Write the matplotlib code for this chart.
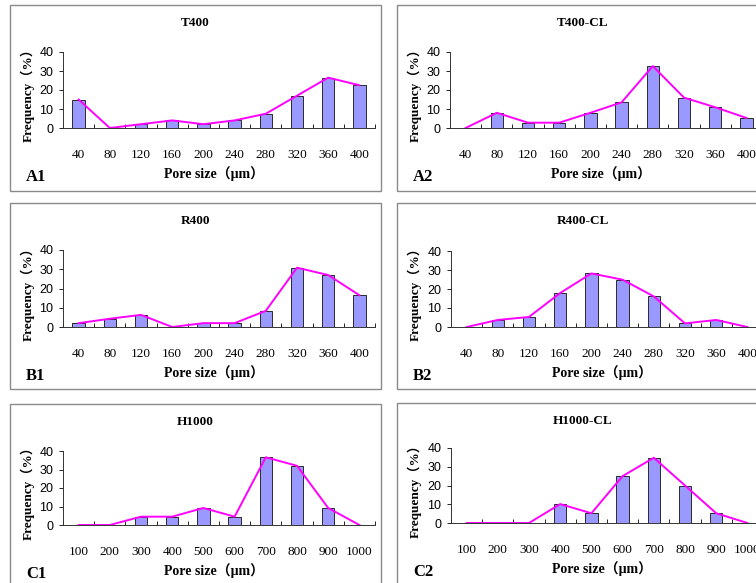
import numpy as np
import matplotlib
matplotlib.use('Agg')
import matplotlib.pyplot as plt
from matplotlib.patches import Rectangle

# pore size classes
sizes_400 = ['40', '80', '120', '160', '200', '240', '280', '320', '360', '400']
sizes_1000 = ['100', '200', '300', '400', '500', '600', '700', '800', '900', '1000']

# frequency (%) per sample
t400 = [15, 0, 2, 4, 2, 4, 7.5, 17, 26.5, 22.5]
t400_cl = [0, 8, 2.8, 2.8, 8, 13.5, 32.6, 16, 10.9, 5.3]
r400 = [2, 4.3, 6.3, 0, 2, 2, 8.4, 30.8, 27, 16.5]
r400_cl = [0, 3.7, 5.3, 17.9, 28.2, 24.9, 16.1, 1.9, 3.7, 0]
h1000 = [0, 0, 4.5, 4.5, 9.2, 4.5, 36.6, 32, 9.2, 0]
h1000_cl = [0, 0, 0, 10.1, 5.2, 25, 34.8, 20, 5.2, 0]

W, H = 756, 583
fig = plt.figure(figsize=(W / 100, H / 100), dpi=100)
fig.patch.set_facecolor('white')

serif = ['Liberation Serif', 'Noto Sans CJK SC']
sans = ['Liberation Sans', 'DejaVu Sans']


def fx(x):
    return x / W


def fy(y):
    return 1 - y / H


# (title, panel label, categories, values, box left, box top, axes left, axes top, axes bottom)
panels = [
    ('T400', 'A1', sizes_400, t400, 10, 5, 63, 52, 128),
    ('T400-CL', 'A2', sizes_400, t400_cl, 397, 5, 450, 52, 128),
    ('R400', 'B1', sizes_400, r400, 10, 203, 63, 250, 327),
    ('R400-CL', 'B2', sizes_400, r400_cl, 397, 203, 451, 251, 327),
    ('H1000', 'C1', sizes_1000, h1000, 10, 404, 63, 451, 525),
    ('H1000-CL', 'C2', sizes_1000, h1000_cl, 397, 403, 451, 448, 523),
]

box_w, box_h = 371, 186
step = 31.2

for title, tag, cats, vals, bx, by, ax_l, ax_t, ax_b in panels:
    # frame around each panel
    fig.patches.append(Rectangle((fx(bx), fy(by + box_h)), box_w / W, box_h / H,
                                 transform=fig.transFigure, fill=False,
                                 edgecolor='#8a8a8a', lw=1.0))

    ax_r = ax_l + step * len(cats)
    ax = fig.add_axes([fx(ax_l), fy(ax_b), (ax_r - ax_l) / W, (ax_b - ax_t) / H])
    pos = np.arange(len(cats))
    ax.bar(pos, vals, width=0.4, color='#9999FF', edgecolor='#2a2a2a', lw=0.7, zorder=2)
    ax.plot(pos, vals, color='#FF00FF', lw=1.4, zorder=3)

    ax.set_xlim(-0.5, len(cats) - 0.5)
    ax.set_ylim(0, 40)
    ax.set_yticks([0, 10, 20, 30, 40])
    ax.set_xticks(pos)
    ax.set_xticklabels(cats, fontfamily=serif, fontsize=9.5)
    ax.set_xticks(np.arange(len(cats) + 1) - 0.5, minor=True)
    ax.tick_params(axis='x', which='major', length=0, pad=15)
    ax.tick_params(axis='x', which='minor', direction='in', length=3, width=0.6)
    ax.tick_params(axis='y', direction='out', length=3, width=0.6, pad=4, labelsize=9)
    for lab in ax.get_yticklabels():
        lab.set_fontfamily(sans)
    for side in ['top', 'right']:
        ax.spines[side].set_visible(False)
    for side in ['left', 'bottom']:
        ax.spines[side].set_linewidth(0.7)
        ax.spines[side].set_color('#333333')
    ax.patch.set_alpha(0)

    fig.text(fx(bx + box_w / 2), fy(by + 18), title, ha='center', va='center',
             fontfamily=serif, fontweight='bold', fontsize=9.5)
    fig.text(fx((ax_l + ax_r) / 2 - 5), fy(ax_b + 46), 'Pore size（μm）', ha='center',
             va='center', fontfamily=serif, fontweight='bold', fontsize=10)
    fig.text(fx(bx + 18), fy((ax_t + ax_b) / 2 + 2), 'Frequency（%）', ha='center',
             va='center', rotation=90, fontfamily=serif, fontweight='bold', fontsize=9.5)
    fig.text(fx(bx + 16), fy(ax_b + 49), tag, ha='left', va='center',
             fontfamily=serif, fontweight='bold', fontsize=12)

fig.savefig('out.png', dpi=100)
